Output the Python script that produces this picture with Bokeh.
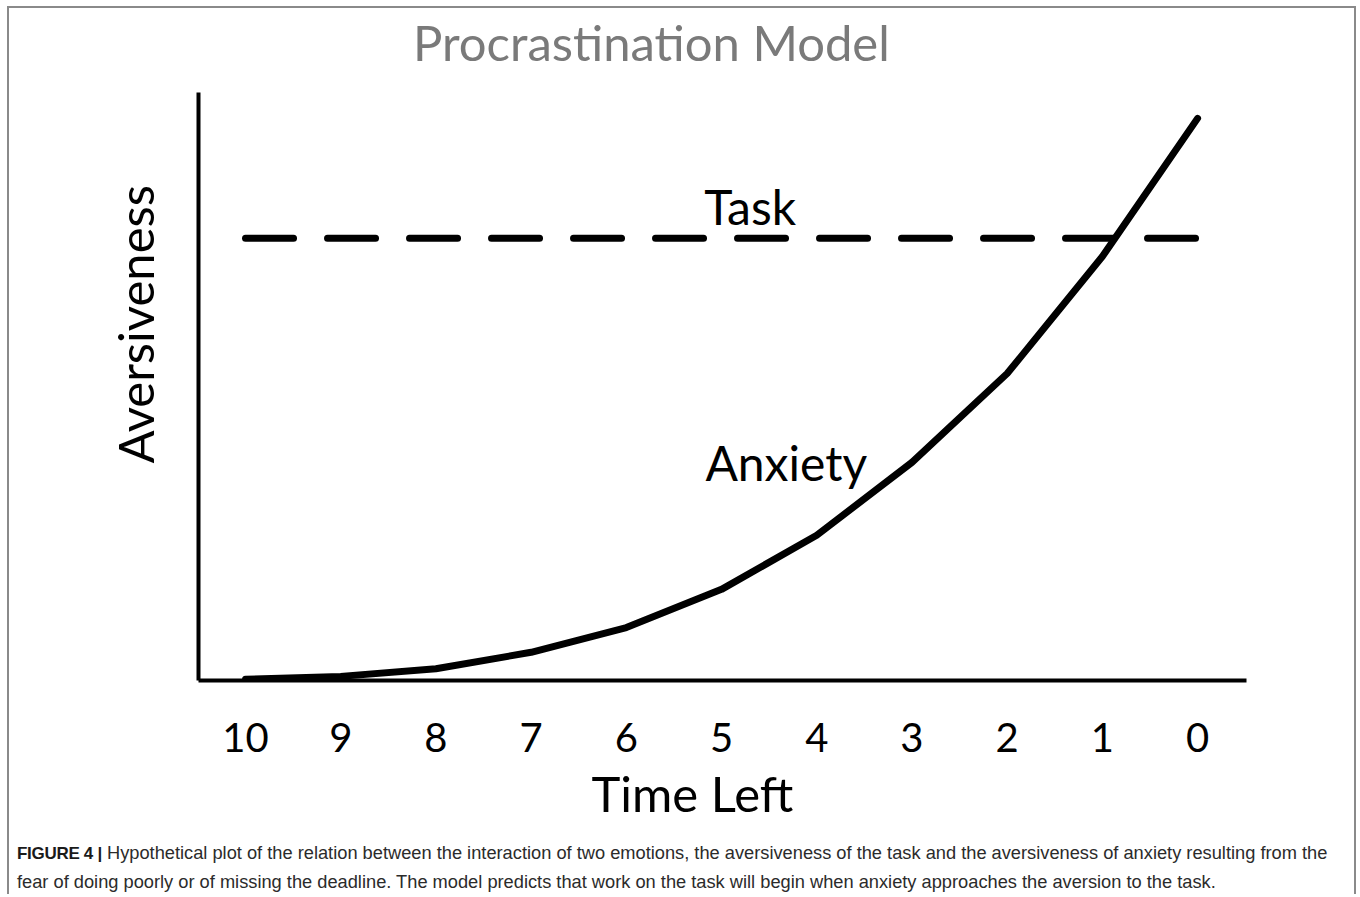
from bokeh.plotting import figure
from bokeh.models import Range1d, FixedTicker, Title, Div
from bokeh.layouts import column
from bokeh.core.properties import value
from bokeh.embed import file_html
from bokeh.resources import INLINE

# ---- data ----
time_left = [10, 9, 8, 7, 6, 5, 4, 3, 2, 1, 0]
anxiety = [0.02, 0.07, 0.20, 0.48, 0.90, 1.55, 2.47, 3.71, 5.22, 7.21, 9.56]
task_level = 7.52
x_ticks = [0, 1, 2, 3, 4, 5, 6, 7, 8, 9, 10]

title_text = "Procrastination Model"
x_label = "Time Left"
y_label = "Aversiveness"
series_labels = ["Task", "Anxiety"]
caption_bold = "FIGURE 4 |"
caption_line1 = ("Hypothetical plot of the relation between the interaction of two emotions, "
                 "the aversiveness of the task and the aversiveness of anxiety resulting from the")
caption_line2 = ("fear of doing poorly or of missing the deadline. The model predicts that work on "
                 "the task will begin when anxiety approaches the aversion to the task.")

FONT = "Lato"
W = 1345
TITLE_H = 84
FIG_H = 742
CAP_H = 60

# ---- title ----
title_div = Div(text=title_text, width=W, height=TITLE_H, margin=0,
                styles={"font-family": "Lato, sans-serif", "font-size": "49px",
                        "line-height": "49px", "color": "#7a7a7a",
                        "padding-left": "404px", "padding-top": "10px",
                        "box-sizing": "border-box", "white-space": "nowrap"})

# ---- chart ----
p = figure(width=W, height=FIG_H, output_backend="svg", toolbar_location=None,
           x_range=Range1d(10.494, -0.514), y_range=Range1d(0, 10),
           min_border_left=189, min_border_right=108, min_border_top=0,
           min_border_bottom=154, margin=0)
p.grid.visible = False
p.outline_line_color = None
p.background_fill_color = "white"
p.border_fill_color = "white"

# x axis
xa = p.xaxis[0]
xa.ticker = FixedTicker(ticks=x_ticks)
xa.axis_line_width = 4
xa.axis_line_color = "black"
xa.major_tick_line_color = None
xa.minor_tick_line_color = None
xa.major_tick_out = 0
xa.major_tick_in = 0
xa.major_label_standoff = 42
xa.major_label_text_font = FONT
xa.major_label_text_font_size = "40px"
xa.major_label_text_color = "black"

# y axis
ya = p.yaxis[0]
ya.ticker = FixedTicker(ticks=[])
ya.axis_line_width = 4
ya.axis_line_color = "black"
ya.major_tick_line_color = None
ya.minor_tick_line_color = None
ya.major_tick_out = 0
ya.major_tick_in = 0
ya.major_label_text_font_size = "0px"

# axis titles (placed off-centre as in the reference)
p.add_layout(Title(text=x_label, align="left", offset=393, standoff=14,
                   text_font=FONT, text_font_size="49px", text_font_style="normal",
                   text_color="black"), "below")
p.add_layout(Title(text=y_label, align="left", offset=217, standoff=70,
                   text_font=FONT, text_font_size="49px", text_font_style="normal",
                   text_color="black"), "left")

# Task (dashed) and Anxiety curve
p.line(x=[time_left[0], time_left[-1]], y=[task_level, task_level],
       line_color="black", line_width=7, line_dash="48 34", line_cap="round")
p.line(x=time_left, y=anxiety, line_color="black", line_width=7,
       line_join="round", line_cap="round")

p.text(x=[4.70, 4.32], y=[8.06, 3.71], text=series_labels,
       text_font=value(FONT), text_font_size="48px", text_color="black",
       text_align="center", text_baseline="alphabetic")

# ---- caption ----
cap_html = ('<b style="font-size:17px;letter-spacing:-0.3px;color:#1a1a1a">' + caption_bold +
            "</b> " + caption_line1 + "<br>" + caption_line2)
cap = Div(text=cap_html, width=W, height=CAP_H, margin=0,
          styles={"font-family": "'Liberation Sans', Arial, sans-serif",
                  "font-size": "18.25px", "line-height": "28px", "color": "#2b2b2b",
                  "padding-left": "8px", "padding-top": "5px", "white-space": "nowrap",
                  "box-sizing": "border-box", "overflow": "hidden"})

layout = column(title_div, p, cap, spacing=0, width=W + 4,
                styles={"border": "2px solid #8a8a8a", "border-bottom": "none",
                        "margin-left": "7px", "margin-top": "6px",
                        "background-color": "white"})

open("out.html", "w").write(file_html(layout, INLINE))
